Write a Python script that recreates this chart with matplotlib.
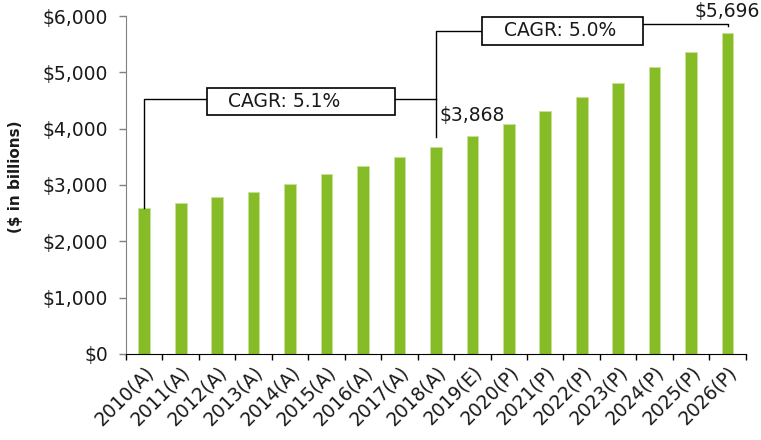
import matplotlib.pyplot as plt
from matplotlib.patches import Rectangle

years = ["2010(A)", "2011(A)", "2012(A)", "2013(A)", "2014(A)", "2015(A)",
         "2016(A)", "2017(A)", "2018(A)", "2019(E)", "2020(P)", "2021(P)",
         "2022(P)", "2023(P)", "2024(P)", "2025(P)", "2026(P)"]
values = [2600, 2680, 2790, 2876, 3020, 3200, 3340, 3490, 3672, 3868,
          4085, 4320, 4556, 4816, 5090, 5367, 5696]
y_ticks = [0, 1000, 2000, 3000, 4000, 5000, 6000]
cagr_labels = ["CAGR: 5.1%", "CAGR: 5.0%"]

GREEN = "#86BC25"
TXT = "#1a1a1a"


def money(v):
    return "${:,.0f}".format(v)


def main():
    plt.rcParams['font.family'] = ['DejaVu Sans']
    fig = plt.figure(figsize=(7.61, 4.40), dpi=100)
    ax = fig.add_axes([0.1656, 0.1955, 0.8144, 0.7681])

    x = list(range(len(years)))
    ax.bar(x, values, width=0.32, color=GREEN, edgecolor="#c8e09a", linewidth=0.6)

    ax.set_xlim(-0.5, len(years) - 0.5)
    ax.set_ylim(0, 6000)
    ax.set_yticks(y_ticks)
    ax.set_yticklabels([money(v) for v in y_ticks], fontsize=13.5, color=TXT)

    ax.set_xticks(x)
    ax.set_xticklabels(years, rotation=45, ha='right', rotation_mode='anchor',
                       fontsize=13.5, color=TXT)
    ax.set_xticks([i - 0.5 for i in range(len(years) + 1)], minor=True)
    ax.tick_params(axis='x', which='major', length=0, pad=6)
    ax.tick_params(axis='x', which='minor', length=4.5, width=1, color="black")
    ax.tick_params(axis='y', length=5, width=1, color="#808080", pad=8)

    for s in ["top", "right"]:
        ax.spines[s].set_visible(False)
    ax.spines["left"].set_color("#808080")
    ax.spines["bottom"].set_color("black")

    ax.set_ylabel("($ in billions)", fontsize=11, fontweight='bold', color=TXT)
    ax.yaxis.set_label_coords(-0.166, 0.525)

    # value labels
    ax.text(9, 4140, money(values[9]), ha='center', va='baseline',
            fontsize=13.5, color=TXT, clip_on=False)
    ax.text(16, 5980, money(values[16]), ha='center', va='baseline',
            fontsize=13.5, color=TXT, clip_on=False)

    lw = 1.0
    # bracket 1: 2010 -> 2018
    y1 = 4530
    ax.plot([0, 0, 8], [values[0], y1, y1], color="black", lw=lw, clip_on=False, zorder=3)
    ax.add_patch(Rectangle((1.72, 4243), 5.16, 479, facecolor="white",
                           edgecolor="black", lw=1.2, zorder=4, clip_on=False))
    ax.text(3.85, 4483, cagr_labels[0], ha='center', va='center', fontsize=13.5,
            color=TXT, zorder=5)

    # bracket 2: 2018 -> 2026
    y2 = 5734
    ax.plot([8, 8, 9.26], [3852, y2, y2], color="black", lw=lw, clip_on=False, zorder=3)
    ax.plot([13.68, 16, 16], [5858, 5858, 5823], color="black", lw=lw,
            clip_on=False, zorder=3)
    ax.add_patch(Rectangle((9.26, 5486), 4.42, 497, facecolor="white",
                           edgecolor="black", lw=1.2, zorder=4, clip_on=False))
    ax.text(11.41, 5734, cagr_labels[1], ha='center', va='center', fontsize=13.5,
            color=TXT, zorder=5)

    fig.savefig("out.png", dpi=100)


if __name__ == "__main__":
    main()
